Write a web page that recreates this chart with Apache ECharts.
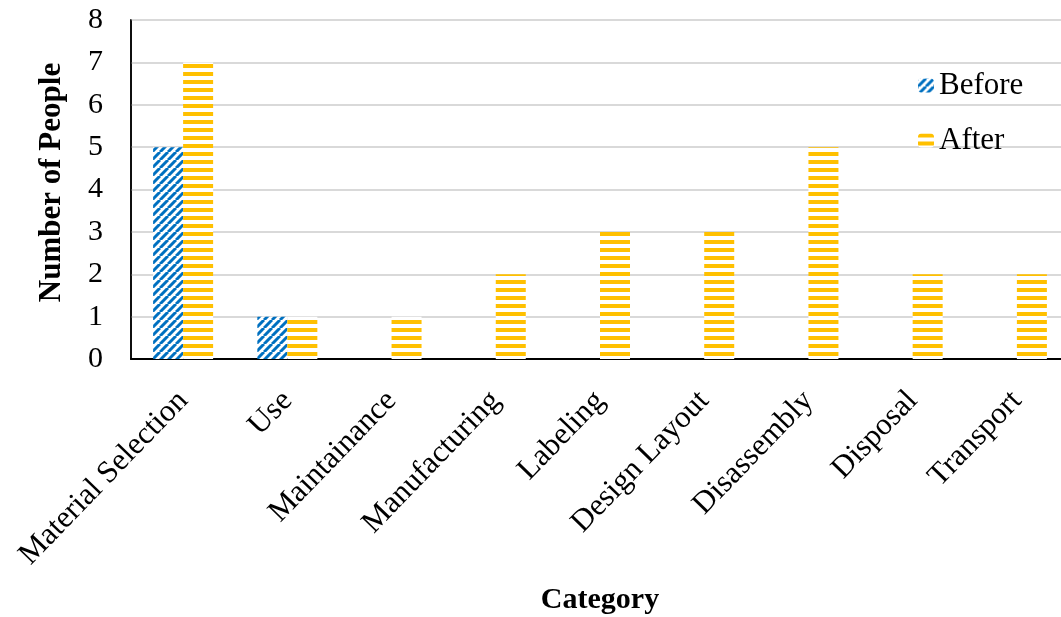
<!DOCTYPE html>
<html>
<head>
<meta charset="utf-8">
<script src="https://cdn.jsdelivr.net/npm/echarts@6/dist/echarts.min.js"></script>
<style>
  html, body { margin: 0; padding: 0; background: #fff; }
  #chart { width: 1061px; height: 617px; }
</style>
</head>
<body>
<div id="chart"></div>
<script>
// data
const categories = ['Material Selection', 'Use', 'Maintainance', 'Manufacturing', 'Labeling',
  'Design Layout', 'Disassembly', 'Disposal', 'Transport'];
const beforeValues = [5, 1, 0, 0, 0, 0, 0, 0, 0];
const afterValues = [7, 1, 1, 2, 3, 3, 5, 2, 2];
const yTicks = [0, 1, 2, 3, 4, 5, 6, 7, 8];

const FONT = '"Liberation Serif", "Times New Roman", serif';

// blue diagonal hatch
function makeDiag() {
  const c = document.createElement('canvas');
  c.width = 8; c.height = 8;
  const ctx = c.getContext('2d');
  ctx.fillStyle = '#fff';
  ctx.fillRect(0, 0, 8, 8);
  ctx.strokeStyle = '#0070C0';
  ctx.lineWidth = 3;
  ctx.beginPath();
  for (let k = -8; k <= 16; k += 8) {
    ctx.moveTo(k, 8);
    ctx.lineTo(k + 8, 0);
  }
  ctx.stroke();
  return c;
}

// yellow horizontal stripes
function makeHoriz() {
  const c = document.createElement('canvas');
  c.width = 8; c.height = 8;
  const ctx = c.getContext('2d');
  ctx.fillStyle = '#fff';
  ctx.fillRect(0, 0, 8, 8);
  ctx.fillStyle = '#FFC000';
  ctx.fillRect(0, 0, 8, 4);
  return c;
}

const chart = echarts.init(document.getElementById('chart'));

const option = {
  animation: false,
  backgroundColor: '#fff',
  textStyle: { fontFamily: FONT },
  grid: {
    left: 131, top: 20, width: 938, height: 339,
    outerBoundsMode: 'none',
    containLabel: false,
    show: true, borderColor: '#000', borderWidth: 1.5
  },
  legend: {
    orient: 'vertical',
    left: 913, top: 65,
    itemWidth: 16, itemHeight: 14,
    itemGap: 24,
    textStyle: { fontFamily: FONT, fontSize: 31, color: '#000' },
    data: ['Before', 'After']
  },
  xAxis: {
    type: 'category',
    data: categories,
    name: 'Category',
    nameLocation: 'middle',
    nameGap: 226,
    nameTextStyle: { fontFamily: FONT, fontSize: 30, fontWeight: 'bold', color: '#000' },
    axisLine: { lineStyle: { color: '#000', width: 2 } },
    axisTick: { show: false },
    axisLabel: {
      interval: 0,
      rotate: 46,
      margin: 37,
      fontFamily: FONT, fontSize: 31, color: '#000'
    }
  },
  yAxis: {
    type: 'value',
    min: yTicks[0],
    max: yTicks[yTicks.length - 1],
    interval: 1,
    name: 'Number of People',
    nameLocation: 'middle',
    nameGap: 64,
    nameTextStyle: {
      fontFamily: FONT, fontSize: 31, fontWeight: 'bold', color: '#000',
      padding: [0, 0, 0, 14]
    },
    axisLine: { show: true, lineStyle: { color: '#000', width: 1.5 } },
    axisTick: { show: false },
    axisLabel: { fontFamily: FONT, fontSize: 30, color: '#000', margin: 28 },
    splitLine: { lineStyle: { color: '#d9d9d9', width: 2 } }
  },
  series: [
    {
      name: 'Before',
      type: 'bar',
      data: beforeValues,
      barWidth: 30,
      barGap: '0%',
      itemStyle: { color: { image: makeDiag(), repeat: 'repeat' } }
    },
    {
      name: 'After',
      type: 'bar',
      data: afterValues,
      barWidth: 30,
      itemStyle: { color: { image: makeHoriz(), repeat: 'repeat' } }
    }
  ]
};

chart.setOption(option);
</script>
</body>
</html>
